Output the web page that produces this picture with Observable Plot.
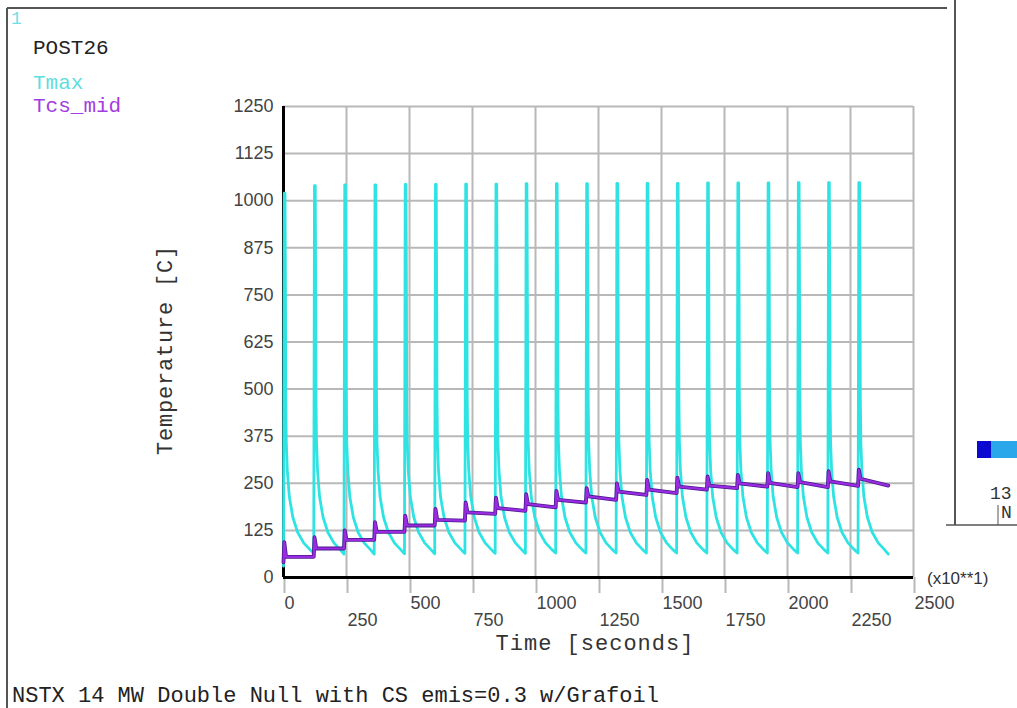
<!DOCTYPE html>
<html><head><meta charset="utf-8">
<script src="https://cdn.jsdelivr.net/npm/d3@7"></script>
<script src="https://cdn.jsdelivr.net/npm/@observablehq/plot@0.6"></script>
<style>
body{margin:0;background:#fff;}
#chart{position:relative;width:1017px;height:708px;overflow:hidden;background:#fff}
#chart svg{position:absolute;left:0;top:0}
</style>
</head><body><div id="chart"></div>
<script>
// ---- data ----
const pulseStart = [0,120,240,360,480,600,720,840,960,1080,1200,1320,1440,1560,1680,1800,1920,2040,2160,2280];
const endTime = 2400;
const tmaxPeak = [1020,1040,1042,1042,1043,1043,1044,1044,1045,1045,1045,1046,1046,1046,1047,1047,1047,1048,1048,1048];
const tmaxBefore = [30,64,62,62,63,63,64,64,64,65,65,65,65,65,65,65,65,65,65,65];
const tmaxEnd = 62;
const decayOffset = [8,9,11,15,23,37,56,80,105];
const decayValue = [720,480,360,285,215,160,120,92,74];
const tcsPeak   = [94,107,125,147,164,182,199,212,221,230,237,250,259,265,268,272,277,277,282,286];
const tcsAfter  = [55,77,100,121,138,153,173,184,195,206,215,228,233,241,244,250,251,253,255,262];
const tcsBefore = [40,55,77,100,121,138,151,169,177,186,199,206,219,224,233,237,241,240,240,243];
const tcsEnd = 244;
const xTicks = [0,250,500,750,1000,1250,1500,1750,2000,2250,2500];
const yTicks = [0,125,250,375,500,625,750,875,1000,1125,1250];

// ---- build tables ----
const tmax = [];
pulseStart.forEach((t0,k)=>{
  tmax.push({t:t0, v:tmaxBefore[k]});
  tmax.push({t:t0+3, v:tmaxPeak[k]});
  tmax.push({t:t0+6, v:tmaxPeak[k]});
  decayOffset.forEach((d,j)=>tmax.push({t:t0+d, v:decayValue[j]}));
});
tmax.push({t:endTime, v:tmaxEnd});

const tcs = [];
pulseStart.forEach((t0,k)=>{
  tcs.push({t:t0, v:tcsBefore[k]});
  tcs.push({t:t0+3, v:tcsPeak[k]});
  tcs.push({t:t0+10, v:tcsAfter[k]});
});
tcs.push({t:endTime, v:tcsEnd});

const evenTicks = xTicks.filter((d,i)=>i%2===0);
const oddTicks = xTicks.filter((d,i)=>i%2===1);
const gridColor = "#b8b8b8";
const cyan = "#30e3e3";
const purple = "#9a2be0";

const chart = Plot.plot({
  width:1017, height:708,
  marginLeft:283, marginRight:104, marginTop:106, marginBottom:131,
  x:{domain:[0,2500]},
  y:{domain:[0,1250]},
  style:{fontFamily:"Liberation Sans, Arial, sans-serif", fontSize:"18px", background:"transparent", color:"#3a3a3a"},
  marks:[
    Plot.gridY(yTicks,{stroke:gridColor, strokeOpacity:1, strokeWidth:2}),
    Plot.gridX(xTicks,{stroke:gridColor, strokeOpacity:1, strokeWidth:2}),
    Plot.axisY(yTicks,{tickSize:0, tickPadding:10, label:null, fill:"#444", fontSize:18, tickFormat:d=>String(d)}),
    Plot.axisX(evenTicks,{tickSize:16, tickPadding:3, stroke:gridColor, strokeWidth:2, label:null, fill:"#444", fontSize:18, textAnchor:"start", dx:1, tickFormat:d=>String(d)}),
    Plot.axisX(oddTicks,{tickSize:16, tickPadding:20, stroke:gridColor, strokeWidth:2, label:null, fill:"#444", fontSize:18, textAnchor:"start", dx:1, tickFormat:d=>String(d)}),
    Plot.ruleX([0],{y1:0, y2:1250, stroke:"#000", strokeWidth:3}),
    Plot.ruleY([0],{stroke:"#000", strokeWidth:3}),
    Plot.line(tmax,{x:"t", y:"v", stroke:cyan, strokeWidth:2.8}),
    Plot.line(tcs,{x:"t", y:"v", stroke:"#4a1a90", strokeWidth:3.8}),
    Plot.line(tcs,{x:"t", y:"v", stroke:purple, strokeWidth:2.2})
  ]
});
document.getElementById("chart").appendChild(chart);

// ---- decorations and texts ----
const svg = d3.select(chart);
const mono = "Liberation Mono, DejaVu Sans Mono, monospace";
const g = svg.append("g").attr("text-anchor","start");
g.append("line").attr("x1",7).attr("y1",8).attr("x2",947).attr("y2",8).attr("stroke","#555").attr("stroke-width",2);
g.append("line").attr("x1",7).attr("y1",8).attr("x2",7).attr("y2",708).attr("stroke","#555").attr("stroke-width",2);
g.append("line").attr("x1",955).attr("y1",0).attr("x2",955).attr("y2",525).attr("stroke","#555").attr("stroke-width",2);
g.append("line").attr("x1",946).attr("y1",525).attr("x2",1017).attr("y2",525).attr("stroke","#555").attr("stroke-width",1.5);
g.append("line").attr("x1",998).attr("y1",505).attr("x2",998).attr("y2",525).attr("stroke","#555").attr("stroke-width",1);
g.append("rect").attr("x",977).attr("y",441).attr("width",14).attr("height",17).attr("fill","#0a0ad0");
g.append("rect").attr("x",991).attr("y",441).attr("width",26).attr("height",17).attr("fill","#2aa6ea");
g.append("text").attr("x",990).attr("y",499).attr("font-family",mono).attr("font-size",18).attr("fill","#333").text("13");
g.append("text").attr("x",1001).attr("y",518).attr("font-family",mono).attr("font-size",18).attr("fill","#333").text("N");

g.append("text").attr("x",11).attr("y",24).attr("font-family",mono).attr("font-size",18).attr("fill","#6de0e6").text("1");
g.append("text").attr("x",33).attr("y",54).attr("font-family",mono).attr("font-size",21).attr("fill","#222").text("POST26");
g.append("text").attr("x",33).attr("y",89).attr("font-family",mono).attr("font-size",21).attr("fill","#5fdede").text("Tmax");
g.append("text").attr("x",33).attr("y",112).attr("font-family",mono).attr("font-size",21).attr("fill","#a23de0").text("Tcs_mid");

g.append("text").attr("x",595).attr("y",650).attr("text-anchor","middle").attr("font-family",mono).attr("font-size",22).attr("letter-spacing","1px").attr("fill","#333").text("Time [seconds]");
g.append("text").attr("transform","translate(172,350) rotate(-90)").attr("text-anchor","middle").attr("font-family",mono).attr("font-size",22).attr("letter-spacing","0.8px").attr("fill","#333").text("Temperature [C]");
g.append("text").attr("x",927).attr("y",584).attr("font-family","Liberation Sans, Arial, sans-serif").attr("font-size",17).attr("fill","#333").text("(x10**1)");
g.append("text").attr("x",12).attr("y",702).attr("font-family",mono).attr("font-size",22).attr("fill","#222").text("NSTX 14 MW Double Null with CS emis=0.3 w/Grafoil");
</script>
</body></html>
